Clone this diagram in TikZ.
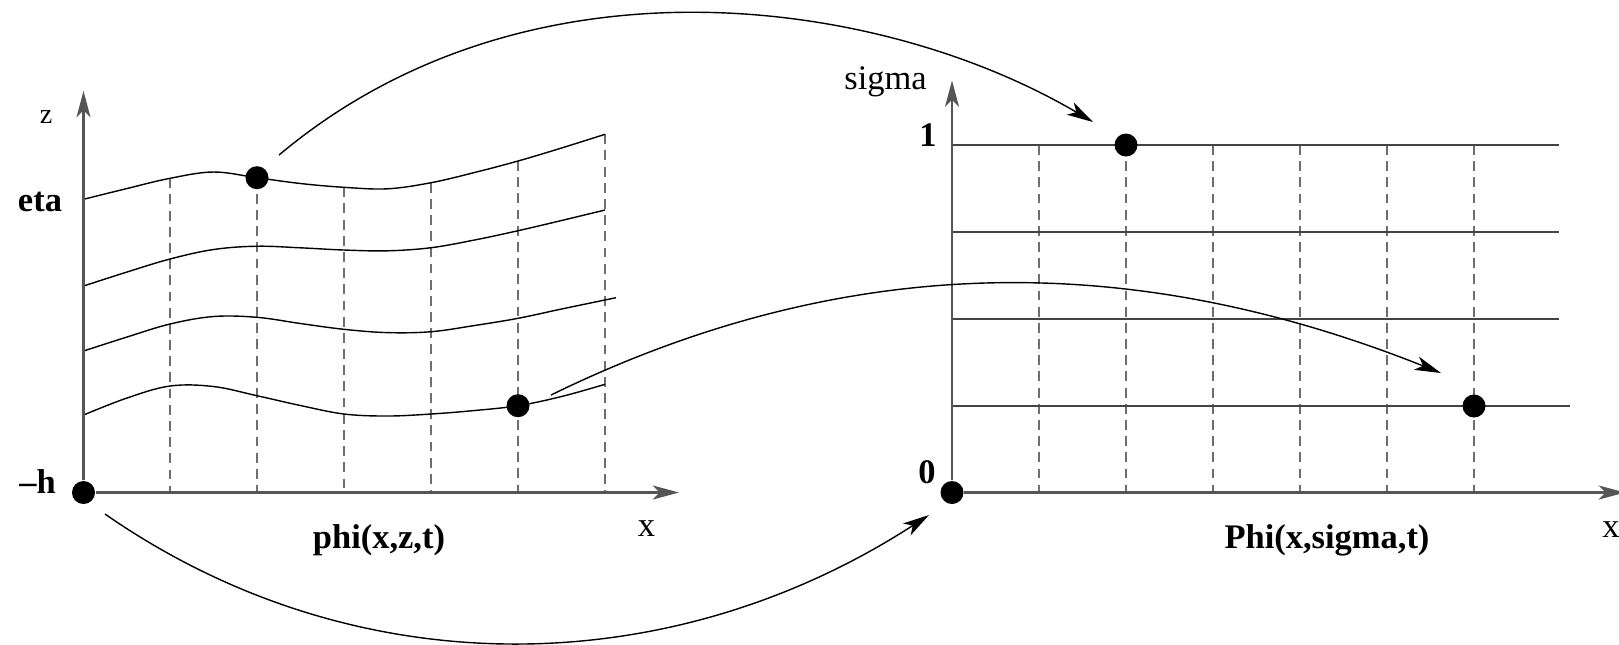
\documentclass[tikz,border=0pt]{standalone}
\usepackage{fontspec}
\setmainfont{Liberation Serif}
\usetikzlibrary{arrows.meta}
\definecolor{axisgray}{HTML}{555555}
\definecolor{dashgray}{HTML}{6E6E6E}
\definecolor{levelgray}{HTML}{444444}
\tikzset{
  tip/.style={-{Stealth[length=7.5pt, width=4pt, inset=2pt]}},
  axis/.style={tip, draw=axisgray, line width=0.65pt},
  wave/.style={line width=0.4pt, smooth, tension=0.6},
  level/.style={draw=levelgray, line width=0.5pt},
  vline/.style={draw=dashgray, line width=0.5pt, dash pattern=on 2.8pt off 1.8pt},
  dot/.style={circle, fill=black, inner sep=0pt, minimum size=0.23cm},
  map/.style={tip, line width=0.4pt},
  lab/.style={font=\fontsize{9.8}{11}\selectfont\bfseries, inner sep=0pt, anchor=base},
  var/.style={font=\fontsize{9.8}{11}\selectfont, inner sep=0pt, anchor=base},
}

\begin{document}
\begin{tikzpicture}[x=0.01cm, y=-0.01cm]
  \useasboundingbox (0,0) rectangle (1619,644);

  % physical domain
  \foreach \x/\t in {170/178.3, 257/177.7, 344/187.3, 431/182.7, 518/161, 605/134.3}
    \draw[vline] (\x,\t) -- (\x,492.5);
  \draw[wave] plot coordinates {(83.5,199.3) (127,188.5) (170,178.3) (213.5,172) (257,177.7) (300.5,183.5) (344,187.3) (387.5,188.8) (431,182.7) (474.5,172.5) (518,161) (561.5,148) (605,134.3)};
  \draw[wave] plot coordinates {(83.5,286) (127,272) (170,259) (213.5,249.5) (257,246.2) (300.5,247.8) (344,250) (387.5,250.8) (431,247.7) (474.5,240) (518,230.7) (561.5,220.5) (605,210)};
  \draw[wave] plot coordinates {(83.5,351) (127,337) (170,324) (213.5,316.5) (257,317.3) (300.5,323.5) (344,329.3) (387.5,332.6) (431,331.7) (474.5,325.5) (518,318.3) (561.5,309) (616,297.7)};
  \draw[wave] plot coordinates {(83.5,415) (127,398) (170,386) (213.5,386.5) (257,395.7) (300.5,405.5) (344,414) (387.5,416) (431,414) (474.5,410.5) (518,405.7) (561.5,396.5) (605,384.3)};

  \node[dot] (bot) at (83.5,492.5) {};
  \coordinate (ztop) at (83.5,91);
  \coordinate (xend) at (679,492.5);
  \draw[axis] (bot) -- (ztop);
  \draw[axis] (bot) -- (xend);
  \node[dot] (surf) at (257,177.7) {};
  \node[dot] (deep) at (518,405.7) {};

  \node[var, font=\fontsize{8}{9}\selectfont] (zlab) at (46,123) {z};
  \node[lab] (eta) at (40,211) {eta};
  \node[lab] (mh) at (37.5,493) {–h};
  \node[var] (xl) at (646.5,536.7) {x};
  \node[lab] (phi) at (379,548) {phi(x,z,t)};

  % transformed domain
  \foreach \x in {1039,1126,1213,1300,1387,1474}
    \draw[vline] (\x,145) -- (\x,492.5);
  \foreach \y/\e in {145/1559, 232/1559, 319/1559, 406/1570}
    \draw[level] (952,\y) -- (\e,\y);

  \node[dot] (zero) at (952,492.5) {};
  \coordinate (stop) at (952,80.5);
  \coordinate (send) at (1625,492.5);
  \draw[axis] (zero) -- (stop);
  \draw[axis] (zero) -- (send);
  \node[dot] (top) at (1126,145) {};
  \node[dot] (low) at (1474,406) {};

  \node[var] (sig) at (885.5,89) {sigma};
  \node[lab] (one) at (928,146) {1};
  \node[lab] (nil) at (927,483) {0};
  \node[var] (xr) at (1611,537) {x};
  \node[lab] (Phi) at (1327,548) {Phi(x,sigma,t)};

  % mappings
  \coordinate (a1) at (279,155);
  \coordinate (a2) at (1093,122);
  \coordinate (b1) at (551,395);
  \coordinate (b2) at (1441,373);
  \coordinate (c1) at (105,514);
  \coordinate (c2) at (929,515);
  \draw[map] (a1) .. controls (528,-54) and (882,-2.5) .. (a2);
  \draw[map] (b1) .. controls (864,242) and (1152,258) .. (b2);
  \draw[map] (c1) .. controls (357,689) and (671,682) .. (c2);
\end{tikzpicture}
\end{document}
